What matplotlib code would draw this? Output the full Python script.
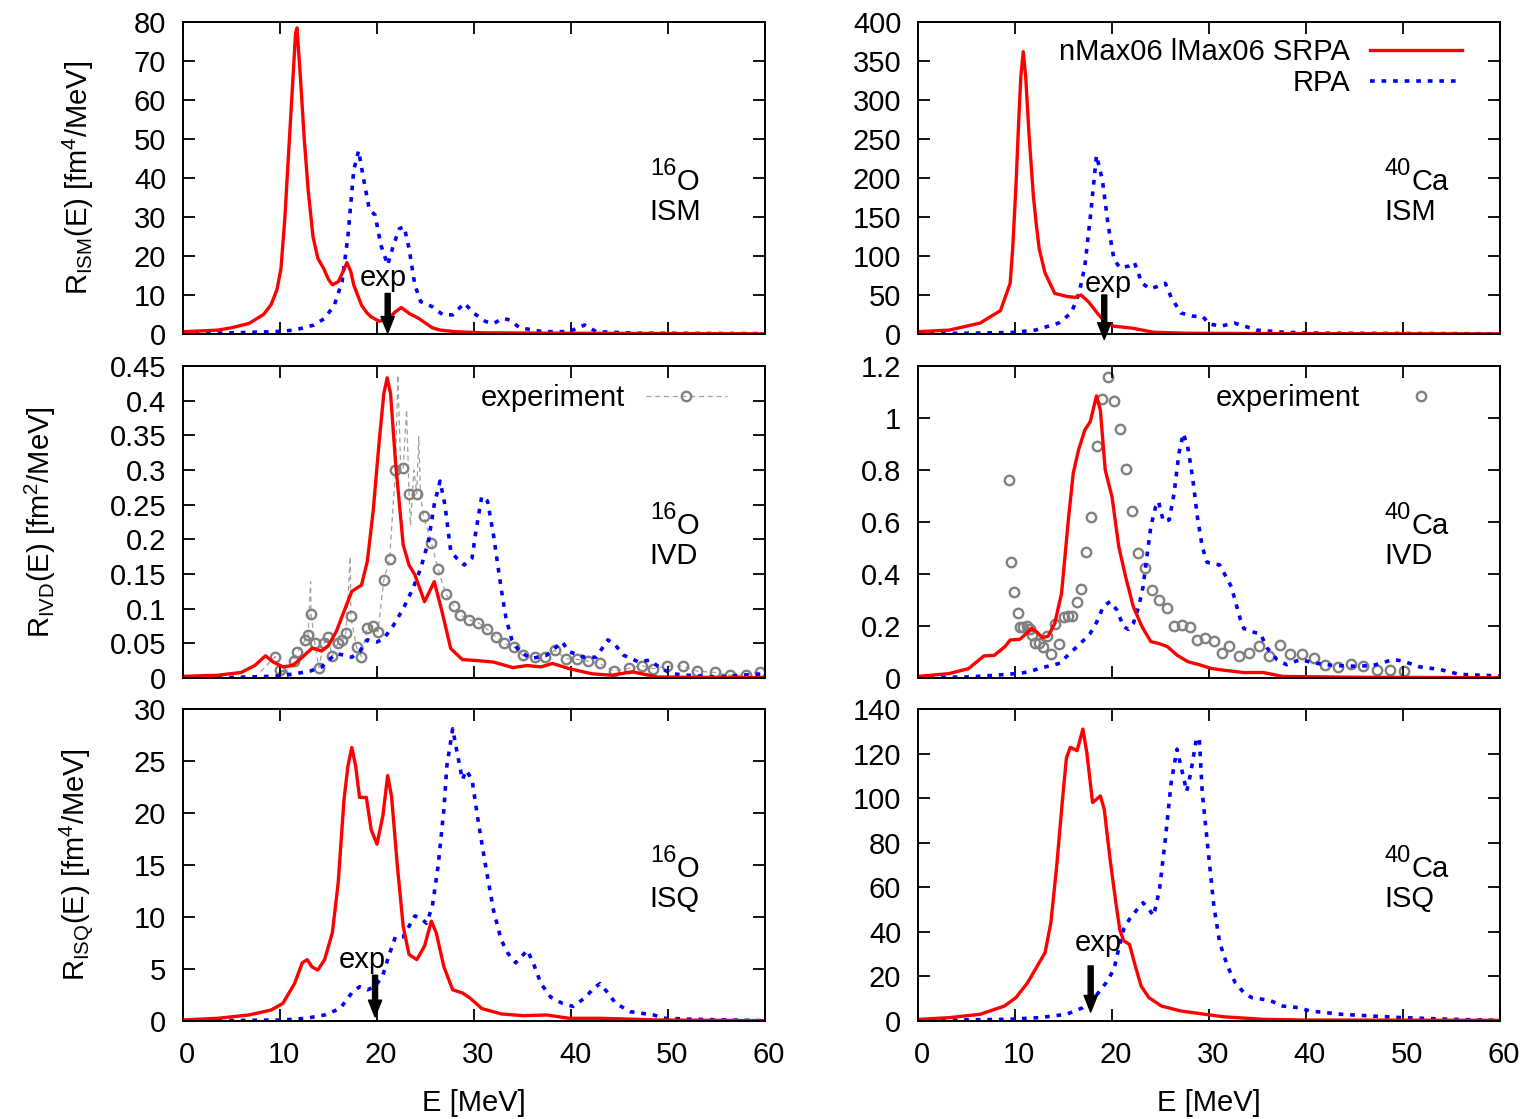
import matplotlib
matplotlib.use('Agg')
import matplotlib.pyplot as plt
from matplotlib.ticker import MultipleLocator, FuncFormatter
from matplotlib.transforms import ScaledTranslation, offset_copy

plt.rcParams['font.family'] = ['Liberation Sans', 'DejaVu Sans']
plt.rcParams['mathtext.fontset'] = 'custom'
plt.rcParams['mathtext.rm'] = 'Liberation Sans'
plt.rcParams['mathtext.it'] = 'Liberation Sans:italic'
plt.rcParams['mathtext.bf'] = 'Liberation Sans:bold'
plt.rcParams['mathtext.default'] = 'regular'

# ---------------- data ----------------
# 16O ISM
o_ism_srpa_E = [0, 2, 3.6, 5, 6.8, 8.3, 9.1, 9.7, 10.1, 10.5, 10.9, 11.3, 11.6, 11.75, 12.1, 12.5, 12.9, 13.4, 13.9, 14.5, 15.0, 15.4, 16.0, 16.5, 16.9, 17.3, 17.6, 18.0, 18.4, 19.0, 19.4, 20.2, 21.1, 21.8, 22.5, 23.3, 24.3, 25.0, 25.7, 26.5, 28.0, 31.0, 35, 40, 50, 60]
o_ism_srpa_R = [0.6, 0.8, 1.0, 1.6, 2.7, 5.0, 7.6, 11.5, 16.8, 29.7, 47, 64, 77, 78.5, 66, 50, 37, 25, 19.4, 16.8, 14, 12.6, 13.4, 16, 18.3, 16, 12.6, 10, 7.4, 5.3, 4.4, 3.3, 3.6, 5.5, 6.8, 5.3, 4.0, 2.8, 1.6, 1.0, 0.6, 0.3, 0.25, 0.2, 0.12, 0.05]
o_ism_rpa_E = [0, 5, 9.5, 11.5, 13.5, 14.6, 15.6, 16.4, 17.0, 17.6, 18.1, 18.6, 19.2, 19.8, 20.4, 21.1, 21.7, 22.3, 22.8, 23.3, 23.9, 24.5, 25.7, 26.8, 27.8, 29.0, 30.0, 31.2, 32.0, 33.0, 33.7, 34.7, 37.1, 39.8, 41.4, 42.6, 47, 60]
o_ism_rpa_R = [0.1, 0.3, 0.6, 1.0, 2.3, 4.0, 7.4, 13.4, 25, 42, 47, 40, 32, 30.5, 22.8, 17.7, 22.8, 27, 27.5, 22, 12.6, 8.3, 7.0, 4.9, 4.9, 7.9, 5.3, 3.2, 2.7, 4.0, 3.6, 1.6, 0.6, 0.6, 2.3, 0.6, 0.2, 0.1]

# 40Ca ISM
ca_ism_srpa_E = [0, 3.2, 6.4, 8.5, 9.5, 9.76, 10.1, 10.35, 10.6, 10.85, 11.1, 11.45, 11.9, 12.2, 12.5, 13.1, 14.1, 15.4, 16.2, 16.8, 17.6, 18.6, 19.4, 20.2, 22.1, 24.3, 27.6, 35, 45, 60]
ca_ism_srpa_R = [3, 5, 14, 30, 65, 109, 190, 264, 330, 362, 330, 255, 176, 140, 109, 78, 52, 48, 47, 50, 41, 25, 14, 10, 7.5, 2.2, 1.0, 0.6, 0.4, 0.2]
ca_ism_rpa_E = [0, 5, 9.7, 12.1, 14.5, 15.8, 16.6, 17.2, 17.8, 18.4, 19.0, 19.6, 20.2, 20.8, 21.7, 22.3, 23.1, 23.9, 24.7, 25.5, 26.1, 27.1, 28.3, 29.4, 30.0, 31.2, 32.6, 33.7, 34.9, 37.7, 41.8, 50, 60]
ca_ism_rpa_R = [0.5, 1, 2, 5, 14, 27, 52, 87, 154, 229, 198, 140, 96, 85, 87, 92, 65, 58, 61, 65, 47, 27, 23, 22, 13, 10, 14, 10, 5, 2.2, 1, 0.7, 0.3]

# 16O IVD
o_ivd_srpa_E = [0, 3.6, 6.0, 7.4, 8.5, 9.3, 10.3, 11.3, 12.3, 13.3, 14.3, 15.0, 15.8, 16.6, 17.4, 18.4, 19.0, 19.6, 20.2, 20.7, 21.05, 21.4, 21.9, 22.7, 23.3, 23.9, 24.9, 25.9, 26.7, 27.6, 28.8, 30.4, 32, 34, 35.5, 36.9, 38.1, 39.8, 42.2, 44.2, 46.3, 48.9, 52, 60]
o_ivd_srpa_R = [0.0024, 0.004, 0.008, 0.018, 0.032, 0.023, 0.016, 0.018, 0.030, 0.043, 0.039, 0.047, 0.067, 0.096, 0.125, 0.134, 0.168, 0.24, 0.337, 0.41, 0.433, 0.41, 0.313, 0.192, 0.163, 0.149, 0.110, 0.139, 0.096, 0.0425, 0.0266, 0.025, 0.023, 0.015, 0.018, 0.016, 0.021, 0.0135, 0.006, 0.004, 0.009, 0.0015, 0.001, 0.0005]
o_ivd_rpa_E = [0, 5.6, 8, 9.9, 11.5, 13.1, 14.3, 15.2, 15.8, 16.6, 17.4, 18.2, 19.0, 20.0, 20.7, 21.7, 22.7, 23.7, 24.5, 25.3, 25.9, 26.5, 27.0, 27.6, 28.2, 29.0, 29.8, 30.2, 30.8, 31.4, 32.0, 32.8, 33.3, 33.9, 34.7, 35.9, 37.5, 39.1, 39.8, 41.4, 42.6, 43.8, 44.6, 45.4, 47, 48.1, 49.3, 50.5, 52, 54.8, 58.7, 60]
o_ivd_rpa_R = [0.0, 0.001, 0.002, 0.003, 0.006, 0.010, 0.016, 0.028, 0.035, 0.033, 0.030, 0.038, 0.055, 0.052, 0.057, 0.076, 0.100, 0.129, 0.158, 0.197, 0.250, 0.284, 0.250, 0.183, 0.173, 0.163, 0.173, 0.212, 0.262, 0.255, 0.207, 0.129, 0.086, 0.055, 0.038, 0.028, 0.033, 0.052, 0.038, 0.030, 0.030, 0.055, 0.047, 0.033, 0.023, 0.026, 0.0135, 0.006, 0.004, 0.0015, 0.005, 0.006]
# experiment 16O IVD: points drawn as circles
o_exp_E = [9.5, 10.0, 10.3, 11.4, 11.8, 12.6, 12.9, 13.2, 13.6, 14.0, 14.5, 14.9, 15.4, 16.0, 16.4, 16.8, 17.3, 17.9, 18.4, 19.0, 19.6, 20.1, 20.7, 21.3, 21.9, 22.7, 23.3, 24.1, 24.8, 25.6, 26.3, 27.1, 27.9, 28.6, 29.5, 30.4, 31.3, 32.3, 33.1, 34.1, 35.0, 36.3, 37.3, 38.3, 39.5, 40.6, 41.8, 43.0, 44.4, 46.0, 47.3, 48.5, 49.9, 51.5, 53.0, 54.8, 56.4, 58.0, 59.5]
o_exp_R = [0.031, 0.011, 0.004, 0.024, 0.038, 0.055, 0.062, 0.092, 0.050, 0.015, 0.050, 0.059, 0.032, 0.051, 0.055, 0.065, 0.089, 0.044, 0.031, 0.072, 0.075, 0.067, 0.141, 0.171, 0.300, 0.303, 0.266, 0.266, 0.234, 0.195, 0.157, 0.121, 0.104, 0.091, 0.084, 0.080, 0.071, 0.059, 0.050, 0.045, 0.033, 0.030, 0.030, 0.040, 0.028, 0.027, 0.024, 0.021, 0.010, 0.014, 0.018, 0.0135, 0.017, 0.017, 0.010, 0.008, 0.004, 0.004, 0.009]
# extra experimental points only on the dashed line (no circle)
o_exp_line_E = [8.0, 13.15, 17.25, 22.15, 22.45, 23.05, 23.45, 23.8, 24.3, 24.5]
o_exp_line_R = [0.009, 0.139, 0.175, 0.437, 0.300, 0.387, 0.220, 0.300, 0.348, 0.260]

# 40Ca IVD
ca_ivd_srpa_E = [0, 3.2, 5.2, 6.8, 7.85, 8.97, 9.5, 10.5, 11.2, 11.7, 12.2, 12.8, 13.4, 14.1, 14.8, 15.5, 16.0, 16.55, 17.2, 17.76, 18.4, 18.8, 19.3, 20.0, 20.7, 21.4, 22.2, 23.1, 24.0, 24.8, 25.7, 26.7, 27.8, 29.1, 30.2, 31.5, 33.6, 35.6, 37.6, 45, 60]
ca_ivd_srpa_R = [0.006, 0.017, 0.036, 0.085, 0.087, 0.121, 0.146, 0.149, 0.172, 0.191, 0.179, 0.156, 0.160, 0.210, 0.326, 0.608, 0.787, 0.877, 0.954, 0.986, 1.085, 1.031, 0.80, 0.697, 0.505, 0.390, 0.274, 0.197, 0.140, 0.133, 0.121, 0.088, 0.063, 0.050, 0.037, 0.030, 0.021, 0.021, 0.006, 0.003, 0.001]
ca_ivd_rpa_E = [0, 5.2, 8.1, 10.5, 11.55, 12.6, 13.6, 14.65, 15.3, 16.2, 17.1, 17.76, 18.45, 19.1, 19.8, 20.5, 21.2, 21.7, 22.2, 22.76, 23.2, 23.6, 24.0, 24.5, 24.8, 25.3, 25.9, 26.4, 26.9, 27.35, 27.8, 28.3, 28.8, 29.3, 29.8, 31.1, 32.3, 33.2, 33.6, 34.4, 35.3, 36.0, 37.0, 38.0, 39.4, 40.8, 42.8, 45.2, 46.9, 49.0, 50.0, 51.7, 53.8, 55.8, 58.6, 60]
ca_ivd_rpa_R = [0.001, 0.004, 0.011, 0.018, 0.025, 0.038, 0.047, 0.057, 0.082, 0.114, 0.146, 0.172, 0.217, 0.275, 0.294, 0.262, 0.197, 0.187, 0.210, 0.275, 0.351, 0.467, 0.582, 0.659, 0.679, 0.602, 0.608, 0.710, 0.864, 0.941, 0.89, 0.774, 0.62, 0.505, 0.445, 0.435, 0.351, 0.23, 0.19, 0.178, 0.17, 0.115, 0.071, 0.051, 0.071, 0.058, 0.048, 0.045, 0.048, 0.071, 0.065, 0.043, 0.033, 0.014, 0.01, 0.008]
ca_exp_E = [9.41, 9.59, 9.9, 10.28, 10.5, 10.86, 11.2, 11.5, 11.8, 12.1, 12.5, 12.9, 13.3, 13.7, 14.1, 14.55, 15.07, 15.5, 15.9, 16.4, 16.8, 17.3, 17.8, 18.45, 19.0, 19.55, 20.2, 20.8, 21.4, 22.1, 22.7, 23.4, 24.1, 24.8, 25.7, 26.4, 27.2, 28.0, 28.8, 29.6, 30.5, 31.3, 32.1, 33.1, 34.1, 35.2, 36.2, 37.3, 38.4, 39.6, 40.8, 42.0, 43.3, 44.6, 45.9, 47.3, 48.7, 50.1]
ca_exp_R = [0.762, 0.446, 0.331, 0.251, 0.197, 0.197, 0.200, 0.190, 0.166, 0.134, 0.134, 0.121, 0.162, 0.092, 0.206, 0.131, 0.236, 0.238, 0.238, 0.291, 0.342, 0.486, 0.620, 0.894, 1.072, 1.159, 1.065, 0.956, 0.803, 0.644, 0.482, 0.425, 0.338, 0.300, 0.268, 0.201, 0.204, 0.195, 0.146, 0.153, 0.142, 0.097, 0.124, 0.086, 0.095, 0.123, 0.085, 0.127, 0.091, 0.092, 0.078, 0.050, 0.044, 0.054, 0.047, 0.031, 0.031, 0.027]

# 16O ISQ
o_isq_srpa_E = [0, 3.6, 6.8, 9.1, 10.3, 11.5, 12.3, 12.8, 13.3, 13.9, 14.6, 15.4, 16.0, 16.6, 17.0, 17.4, 17.8, 18.2, 18.9, 19.4, 20.0, 20.6, 21.1, 21.5, 22.1, 22.7, 23.3, 24.1, 24.9, 25.6, 26.1, 26.9, 27.8, 28.8, 29.6, 30.8, 32.8, 35.1, 37.5, 39.8, 43.0, 48.9, 60]
o_isq_srpa_R = [0.1, 0.26, 0.58, 1.06, 1.7, 3.6, 5.6, 5.9, 5.2, 4.9, 5.9, 8.5, 13.3, 21.3, 24.5, 26.3, 24.5, 21.5, 21.5, 18.4, 17.0, 19.7, 23.6, 21.6, 14.9, 9.1, 6.4, 5.9, 7.2, 9.6, 8.5, 5.2, 3.0, 2.7, 2.2, 1.2, 0.68, 0.51, 0.58, 0.26, 0.26, 0.1, 0.03]
o_isq_rpa_E = [0, 10.3, 12.7, 14.6, 16.2, 17.4, 18.2, 19.0, 19.8, 20.6, 21.3, 21.9, 22.7, 23.3, 23.9, 24.5, 25.1, 25.7, 26.3, 26.9, 27.2, 27.8, 28.2, 28.8, 29.2, 29.8, 30.4, 31.2, 32.0, 32.8, 33.5, 34.3, 35.5, 36.1, 36.9, 37.9, 39.1, 40.2, 41.4, 42.4, 43.0, 43.8, 44.6, 46.1, 48.5, 49.7, 52.8, 60]
o_isq_rpa_R = [0, 0.1, 0.26, 0.58, 1.2, 2.7, 3.3, 3.0, 3.3, 4.4, 6.5, 8.1, 8.1, 9.1, 10.1, 9.9, 9.4, 11.0, 14.9, 20.4, 24.5, 28.1, 26.1, 23.2, 24.1, 23.2, 19.4, 14.9, 10.7, 7.8, 6.5, 5.6, 6.8, 5.6, 3.6, 2.3, 1.7, 1.4, 2.2, 3.2, 3.6, 2.7, 1.7, 0.9, 0.58, 0.26, 0.16, 0.03]

# 40Ca ISQ
ca_isq_srpa_E = [0, 3.2, 6.4, 8.9, 10.1, 11.3, 12.5, 13.1, 13.7, 14.3, 14.9, 15.3, 15.7, 16.4, 17.0, 17.4, 18.0, 18.8, 19.2, 19.8, 20.4, 20.8, 21.2, 21.8, 22.4, 23.0, 23.8, 25.1, 27.1, 29.1, 31.5, 35.6, 39.6, 60]
ca_isq_srpa_R = [0.7, 1.5, 3.0, 6.7, 10.5, 17.2, 26.2, 30.7, 44.2, 69.6, 99.6, 118, 122.8, 121.3, 131, 120.5, 98, 101, 95, 72.6, 53, 41, 36, 34.4, 24.7, 15.7, 10.5, 6.7, 4.5, 3.3, 1.9, 0.75, 0.45, 0.3]
ca_isq_rpa_E = [0, 9.3, 12.5, 15.3, 17.0, 18.2, 19.4, 20.2, 20.6, 21.2, 21.8, 22.6, 23.2, 23.8, 24.3, 24.9, 25.5, 26.1, 26.7, 27.1, 27.7, 28.1, 28.7, 29.0, 29.3, 29.9, 30.5, 31.1, 31.9, 32.7, 33.6, 34.4, 35.6, 36.4, 37.6, 39.2, 40.4, 43.7, 46.9, 50.0, 55, 60]
ca_isq_rpa_R = [0.3, 0.75, 1.5, 3.0, 6.0, 10.5, 17.2, 23.2, 30.7, 41.2, 45.7, 50.1, 53.1, 50.1, 47.2, 59.1, 81.6, 107, 122, 114.5, 103, 111, 126.5, 127, 102.7, 77, 51.6, 35.2, 24.7, 17.2, 12.7, 10.5, 9.7, 9.0, 6.7, 6.0, 4.5, 3.0, 2.2, 1.5, 0.75, 0.3]

# experimental centroid arrows: ISM 16O, ISM 40Ca, ISQ 16O, ISQ 40Ca
arrow_E = [21.1, 19.2, 19.8, 17.8]
arrow_top = [10.4, 50, 4.4, 24.7]
arrow_tip = [0.2, -7, 0.4, 4.0]
exp_text_E = [20.6, 19.6, 18.5, 18.6]
exp_text_R = [12.3, 54, 5.1, 31.4]

y_max = [80, 400, 0.45, 1.2, 30, 140]
y_step = [10, 50, 0.05, 0.2, 5, 20]
nuclei = ['16', '40', '16', '40', '16', '40']
symbols = ['O', 'Ca', 'O', 'Ca', 'O', 'Ca']
modes = ['ISM', 'ISM', 'IVD', 'IVD', 'ISQ', 'ISQ']
ylabels = [r'R$_{ISM}$(E) [fm$^{4}$/MeV]', r'R$_{IVD}$(E) [fm$^{2}$/MeV]', r'R$_{ISQ}$(E) [fm$^{4}$/MeV]']
srpa_label = 'nMax06 lMax06 SRPA'
rpa_label = 'RPA'
exp_label = 'experiment'

# ---------------- figure ----------------
FS = 21
FS_SUP = 17
RED = '#ff0000'
BLUE = '#0000ff'
GRAY = '#808080'
fig = plt.figure(figsize=(15.26, 11.19), dpi=100)
W, H = 1526, 1119
col_x = [183 / W, 918 / W]
ax_w = 582 / W
row_b = [1 - 334 / H, 1 - 678 / H, 1 - 1021 / H]
ax_h = 312 / H

srpa = [(o_ism_srpa_E, o_ism_srpa_R), (ca_ism_srpa_E, ca_ism_srpa_R),
        (o_ivd_srpa_E, o_ivd_srpa_R), (ca_ivd_srpa_E, ca_ivd_srpa_R),
        (o_isq_srpa_E, o_isq_srpa_R), (ca_isq_srpa_E, ca_isq_srpa_R)]
rpa = [(o_ism_rpa_E, o_ism_rpa_R), (ca_ism_rpa_E, ca_ism_rpa_R),
       (o_ivd_rpa_E, o_ivd_rpa_R), (ca_ivd_rpa_E, ca_ivd_rpa_R),
       (o_isq_rpa_E, o_isq_rpa_R), (ca_isq_rpa_E, ca_isq_rpa_R)]

fmt = FuncFormatter(lambda v, p: '%g' % round(v, 6))
dot_style = (0, (1.3, 1.9))
xshift = ScaledTranslation(4 / 100, 0, fig.dpi_scale_trans)
axes = []
for i in range(6):
    r, c = divmod(i, 2)
    ax = fig.add_axes([col_x[c], row_b[r], ax_w, ax_h])
    axes.append(ax)
    lr, = ax.plot(rpa[i][0], rpa[i][1], color=BLUE, lw=2.6, ls=dot_style, label=rpa_label)
    ls, = ax.plot(srpa[i][0], srpa[i][1], color=RED, lw=2.4, label=srpa_label)
    ax.set_xlim(0, 60)
    ax.set_ylim(0, y_max[i])
    ax.xaxis.set_major_locator(MultipleLocator(10))
    ax.yaxis.set_major_locator(MultipleLocator(y_step[i]))
    ax.yaxis.set_major_formatter(fmt)
    ax.tick_params(direction='in', length=8.5, width=1.3, top=True, right=True,
                   labelsize=FS, color='black')
    ax.tick_params(axis='y', pad=12)
    ax.tick_params(axis='x', pad=14.5)
    for s in ax.spines.values():
        s.set_linewidth(1.4)
    if r < 2:
        ax.set_xticklabels([])
    else:
        ax.set_xlabel('E [MeV]', fontsize=FS, labelpad=14)
        for lab in ax.get_xticklabels():
            lab.set_transform(lab.get_transform() + xshift)
    if c == 0:
        ax.set_ylabel(ylabels[r], fontsize=FS)
        ax.yaxis.set_label_coords(-0.215 if r == 1 else -0.15, 0.5)
    # nucleus label: mass number as raised superscript, then symbol
    sup_tr = offset_copy(ax.transAxes, fig=fig, x=0, y=15, units='dots')
    ax.text(0.802, 0.4615, nuclei[i], transform=sup_tr, fontsize=FS_SUP,
            ha='left', va='baseline')
    ax.text(0.802 + 0.0465, 0.4615, symbols[i], transform=ax.transAxes,
            fontsize=FS, ha='left', va='baseline')
    ax.text(0.802, 0.365, modes[i], transform=ax.transAxes,
            fontsize=FS, ha='left', va='baseline')
    if i == 1:
        ax.legend(handles=[ls, lr], loc='upper right', bbox_to_anchor=(0.935, 0.949),
                  markerfirst=False, frameon=False, fontsize=FS, handlelength=3.15,
                  handletextpad=0.7, labelspacing=0.12, borderpad=0, borderaxespad=0)

# experimental data in IVD panels
ax = axes[2]
line_pts = sorted(zip(o_exp_E + o_exp_line_E, o_exp_R + o_exp_line_R))
le, = ax.plot([p[0] for p in line_pts], [p[1] for p in line_pts], color='#a0a0a0',
              lw=0.9, ls=(0, (4, 3)), zorder=1)
me, = ax.plot(o_exp_E, o_exp_R, ls='none', marker='o', mfc='none', mec=GRAY,
              ms=6.8, mew=1.7, zorder=1.5)
ax.legend(handles=[(le, me)], labels=[exp_label], loc='upper right',
          bbox_to_anchor=(0.935, 0.943), markerfirst=False, frameon=False, fontsize=FS,
          handlelength=2.8, handletextpad=0.7, borderpad=0, borderaxespad=0, numpoints=1)

ax = axes[3]
mc, = ax.plot(ca_exp_E, ca_exp_R, ls='none', marker='o', mfc='none', mec=GRAY,
              ms=6.8, mew=1.7, zorder=1.5)
ax.legend(handles=[mc], labels=[exp_label], loc='upper right',
          bbox_to_anchor=(0.935, 0.943), markerfirst=False, frameon=False, fontsize=FS,
          handlelength=2.8, handletextpad=0.7, borderpad=0, borderaxespad=0, numpoints=1)

# experimental arrows
for k, i in enumerate([0, 1, 4, 5]):
    ax = axes[i]
    ax.annotate('', xy=(arrow_E[k], arrow_tip[k]), xytext=(arrow_E[k], arrow_top[k]),
                arrowprops=dict(facecolor='black', edgecolor='black', width=3.6,
                                headwidth=9.5, headlength=12, shrink=0),
                annotation_clip=False, zorder=5)
    ax.text(exp_text_E[k], exp_text_R[k], 'exp', fontsize=FS, ha='center', va='baseline',
            zorder=6)

fig.savefig('out.png', dpi=100)
